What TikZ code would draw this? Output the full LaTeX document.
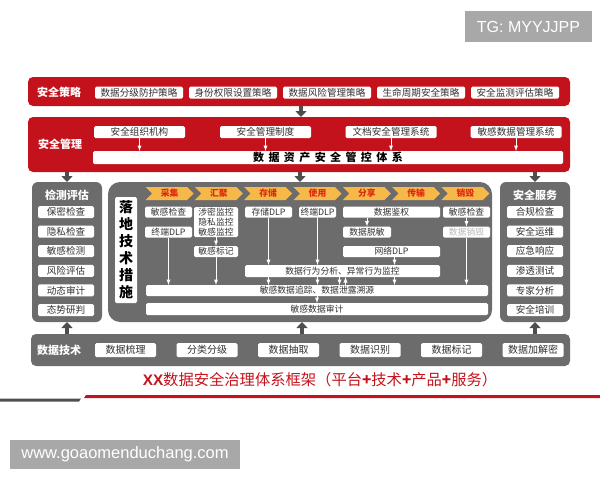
\documentclass[tikz,border=0pt]{standalone}
\usepackage{fontspec}
\setmainfont{Noto Sans CJK SC}
\newfontfamily\latinsans{Liberation Sans}
\usetikzlibrary{positioning}
\usetikzlibrary{arrows,arrows.meta}
\usetikzlibrary{shapes.symbols}

\definecolor{barred}{RGB}{196,18,28}
\definecolor{panelgray}{RGB}{108,108,108}
\definecolor{arrowgray}{RGB}{78,78,78}
\definecolor{itemtext}{RGB}{50,50,50}
\definecolor{stagefill}{RGB}{246,184,72}
\definecolor{stagetext}{RGB}{222,40,18}
\definecolor{wmgray}{RGB}{168,168,168}

\begin{document}
\begin{tikzpicture}[>=latex,x=1pt,y=1pt,
	redbar/.style={rectangle,rounded corners=5pt,fill=barred,minimum width=542pt,outer sep=0pt},
	graybox/.style={rectangle,rounded corners=6pt,fill=panelgray,outer sep=0pt},
	bartitle/.style={text=white,font=\fontsize{11}{11}\selectfont\bfseries},
	item/.style={rectangle,rounded corners=1.5pt,fill=white,text=itemtext,inner sep=0pt,outer sep=0pt,minimum height=12pt,font=\fontsize{9.6}{9.6}\selectfont},
	smallitem/.style={item,minimum height=11pt,font=\fontsize{8.8}{8.8}\selectfont},
	stage/.style={signal,signal from=west,signal to=east,fill=stagefill,text=stagetext,minimum width=48pt,minimum height=13pt,inner sep=0pt,font=\fontsize{8.8}{8.8}\selectfont\bfseries},
	blockarrow/.style={-{Triangle[width=11pt,length=6pt]},draw=arrowgray,line width=4.5pt},
	whitearrow/.style={->,draw=white,line width=0.9pt},
	watermark/.style={rectangle,fill=wmgray,text=white,inner sep=0pt,font=\latinsans\fontsize{16}{16}\selectfont}]

	\useasboundingbox (0,0) rectangle (600,-480);

	\node [watermark,minimum width=127pt,minimum height=31pt] (tg) at (528.5,-26.5) {TG: MYYJJPP};
	\node [watermark,minimum width=230pt,minimum height=29pt,font=\latinsans\fontsize{16.5}{16.5}\selectfont] (site) at (125,-454.5) {www.goaomenduchang.com};

	\node [redbar,minimum height=29pt] (policy) at (299,-91.5) {};
	\node [bartitle] (policytxt) at (59,-92) {安全策略};
	\node [item,minimum width=88pt] (pol1) at (139,-92.5) {数据分级防护策略};
	\node [item,minimum width=88pt,right=6pt of pol1] (pol2) {身份权限设置策略};
	\node [item,minimum width=88pt,right=6pt of pol2] (pol3) {数据风险管理策略};
	\node [item,minimum width=88pt,right=6pt of pol3] (pol4) {生命周期安全策略};
	\node [item,minimum width=88pt,right=6pt of pol4] (pol5) {安全监测评估策略};

	\node [redbar,minimum height=55pt] (mgmt) at (299,-144.5) {};
	\node [bartitle] (mgmttxt) at (60,-144) {安全管理};
	\node [item,minimum width=91pt] (org) at (139.5,-132) {安全组织机构};
	\node [item,minimum width=91pt] (rule) at (265.5,-132) {安全管理制度};
	\node [item,minimum width=91pt] (doc) at (391,-132) {文档安全管理系统};
	\node [item,minimum width=91pt] (sens) at (516,-132) {敏感数据管理系统};
	\node [item,minimum width=470pt,minimum height=13pt,text=black,font=\fontsize{11}{11}\selectfont\bfseries\addfontfeature{LetterSpace=40}] (tixi) at (328,-157.5) {数据资产安全管控体系};

	\draw[whitearrow] (org.south) -- (org.south|-tixi.north);
	\draw[whitearrow] (rule.south) -- (rule.south|-tixi.north);
	\draw[whitearrow] (doc.south) -- (doc.south|-tixi.north);
	\draw[whitearrow] (sens.south) -- (sens.south|-tixi.north);

	\node [graybox,minimum width=70pt,minimum height=140pt] (detect) at (67,-252) {};
	\node [bartitle] (detecttxt) at (67,-195) {检测评估};
	\node [item,minimum width=56pt] (det1) at (66,-212) {保密检查};
	\node [item,minimum width=56pt,below=7.6pt of det1] (det2) {隐私检查};
	\node [item,minimum width=56pt,below=7.6pt of det2] (det3) {敏感检测};
	\node [item,minimum width=56pt,below=7.6pt of det3] (det4) {风险评估};
	\node [item,minimum width=56pt,below=7.6pt of det4] (det5) {动态审计};
	\node [item,minimum width=56pt,below=7.6pt of det5] (det6) {态势研判};

	\node [graybox,minimum width=70pt,minimum height=140pt] (service) at (535,-252) {};
	\node [bartitle] (servicetxt) at (535,-195) {安全服务};
	\node [item,minimum width=56pt] (svc1) at (535,-212) {合规检查};
	\node [item,minimum width=56pt,below=7.6pt of svc1] (svc2) {安全运维};
	\node [item,minimum width=56pt,below=7.6pt of svc2] (svc3) {应急响应};
	\node [item,minimum width=56pt,below=7.6pt of svc3] (svc4) {渗透测试};
	\node [item,minimum width=56pt,below=7.6pt of svc4] (svc5) {专家分析};
	\node [item,minimum width=56pt,below=7.6pt of svc5] (svc6) {安全培训};

	\node [graybox,rounded corners=12pt,minimum width=384pt,minimum height=140pt] (tech) at (300,-252) {};
	\node [item,minimum width=22pt,minimum height=106pt,text=black,align=center,font=\fontsize{14}{17}\selectfont\bfseries] (luodi) at (126,-250) {落\\地\\技\\术\\措\\施};

	\node [stage] (st1) at (169.6,-193.5) {采集};
	\node [stage] (st2) at (218.9,-193.5) {汇聚};
	\node [stage] (st3) at (268.2,-193.5) {存储};
	\node [stage] (st4) at (317.5,-193.5) {使用};
	\node [stage] (st5) at (366.8,-193.5) {分享};
	\node [stage] (st6) at (416.1,-193.5) {传输};
	\node [stage] (st7) at (465.4,-193.5) {销毁};

	\node [smallitem,minimum width=47pt] (cj1) at (168.5,-212) {敏感检查};
	\node [smallitem,minimum width=47pt] (cj2) at (168.5,-232) {终端DLP};
	\node [smallitem,minimum width=44pt,minimum height=30pt,align=center,font=\fontsize{8.8}{10}\selectfont] (hj1) at (216,-222) {涉密监控\\隐私监控\\敏感监控};
	\node [smallitem,minimum width=44pt] (hj2) at (216,-251.5) {敏感标记};
	\node [smallitem,minimum width=47pt] (cc1) at (268.5,-212) {存储DLP};
	\node [smallitem,minimum width=37pt] (sy1) at (317.5,-212) {终端DLP};
	\node [smallitem,minimum width=97pt] (fx1) at (391.5,-212) {数据鉴权};
	\node [smallitem,minimum width=48pt] (fx2) at (367,-232) {数据脱敏};
	\node [smallitem,minimum width=97pt] (fx3) at (391.5,-251.5) {网络DLP};
	\node [smallitem,minimum width=47pt] (xh1) at (466.5,-212) {敏感检查};
	\node [smallitem,minimum width=47pt,text=gray!55] (xh2) at (466.5,-232) {数据销毁};

	\node [smallitem,minimum width=195pt,minimum height=12pt] (xw) at (342.5,-271) {数据行为分析、异常行为监控};
	\node [smallitem,minimum width=342pt] (zz) at (317,-290.5) {敏感数据追踪、数据泄露溯源};
	\node [smallitem,minimum width=342pt,minimum height=12pt] (sj) at (317,-309) {敏感数据审计};

	\draw[whitearrow] (cj2.south) -- (cj2.south|-zz.north);
	\draw[whitearrow] (hj1.south) -- (hj2.north);
	\draw[whitearrow] (hj2.south) -- (hj2.south|-zz.north);
	\draw[whitearrow] (cc1.south) -- (cc1.south|-xw.north);
	\draw[whitearrow] (cc1.south|-xw.south) -- (cc1.south|-zz.north);
	\draw[whitearrow] (sy1.south) -- (sy1.south|-xw.north);
	\draw[whitearrow] (sy1.south|-xw.south) -- (sy1.south|-zz.north);
	\draw[whitearrow] (fx2.north|-fx1.south) -- (fx2.north);
	\draw[whitearrow] ([xshift=3pt]fx3.south) -- ([xshift=3pt]fx3.south|-xw.north);
	\draw[whitearrow] ([xshift=3pt]fx3.south|-xw.south) -- ([xshift=3pt]fx3.south|-zz.north);
	\draw[whitearrow] ([xshift=-3pt]xw.south) -- ([xshift=-3pt]xw.south|-zz.north);
	\draw[whitearrow] ([xshift=3pt]xw.south|-zz.north) -- ([xshift=3pt]xw.south);
	\draw[whitearrow] (xh1.south) -- (xh2.north);
	\draw[whitearrow] (xh2.south) -- (xh2.south|-zz.north);
	\draw[whitearrow] (zz.south) -- (sj.north);

	\node [graybox,rounded corners=5pt,minimum width=539pt,minimum height=32pt] (base) at (300.5,-350) {};
	\node [bartitle] (basetxt) at (59,-350) {数据技术};
	\node [item,minimum width=61pt,minimum height=14pt,font=\fontsize{10}{10}\selectfont] (bs1) at (125.5,-350) {数据梳理};
	\node [item,minimum width=61pt,minimum height=14pt,font=\fontsize{10}{10}\selectfont,right=20.5pt of bs1] (bs2) {分类分级};
	\node [item,minimum width=61pt,minimum height=14pt,font=\fontsize{10}{10}\selectfont,right=20.5pt of bs2] (bs3) {数据抽取};
	\node [item,minimum width=61pt,minimum height=14pt,font=\fontsize{10}{10}\selectfont,right=20.5pt of bs3] (bs4) {数据识别};
	\node [item,minimum width=61pt,minimum height=14pt,font=\fontsize{10}{10}\selectfont,right=20.5pt of bs4] (bs5) {数据标记};
	\node [item,minimum width=61pt,minimum height=14pt,font=\fontsize{10}{10}\selectfont,right=20.5pt of bs5] (bs6) {数据加解密};

	\draw[blockarrow] ([xshift=2pt]policy.south) -- ([xshift=2pt]mgmt.north);
	\draw[blockarrow] (mgmt.south-|detect.north) -- (detect.north);
	\draw[blockarrow] (mgmt.south-|tech.north) -- (tech.north);
	\draw[blockarrow] (mgmt.south-|service.north) -- (service.north);
	\draw[blockarrow] (base.north-|detect.south) -- (detect.south);
	\draw[blockarrow] ([xshift=2pt]base.north-|tech.south) -- ([xshift=2pt]tech.south);
	\draw[blockarrow] (base.north-|service.south) -- (service.south);

	\node [text=barred,font=\fontsize{15.3}{15.3}\selectfont] (title) at (320,-380) {{\latinsans\bfseries XX}数据安全治理体系框架（平台{\bfseries +}技术{\bfseries +}产品{\bfseries +}服务）};

	\fill[arrowgray] (0,-398.5) -- (81,-398.5) -- (79,-401.5) -- (0,-401.5) -- cycle;
	\fill[barred] (86,-395) -- (600,-395) -- (600,-398) -- (84,-398) -- cycle;
\end{tikzpicture}
\end{document}
